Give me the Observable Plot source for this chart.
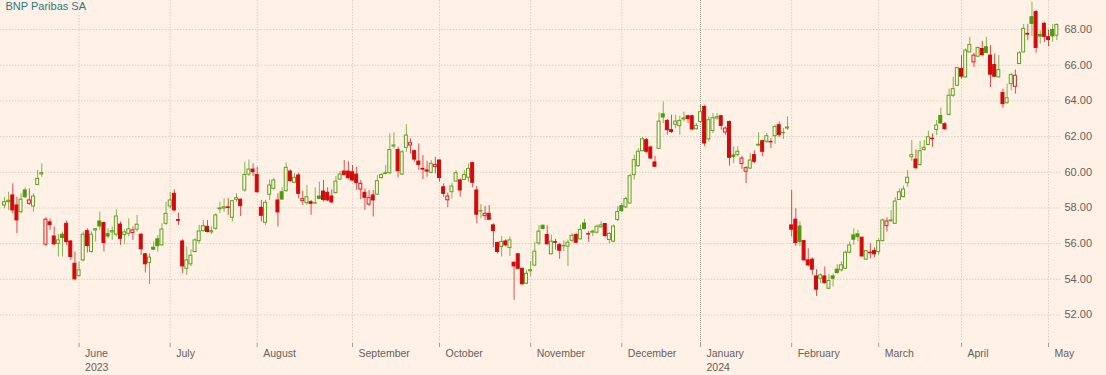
<!DOCTYPE html>
<html>
<head>
<meta charset="utf-8">
<script src="https://cdn.jsdelivr.net/npm/d3@7"></script>
<script src="https://cdn.jsdelivr.net/npm/@observablehq/plot@0.6"></script>
<style>
html, body { margin: 0; padding: 0; background: #fff1e5; }
#chart { width: 1106px; height: 375px; }
</style>
</head>
<body>
<div id="chart"></div>
<script>
// Daily candles (trading days, in order), BNP Paribas SA, May 2023 - May 2024
const open = [
58.14,58.33,58.70,58.14,57.76,58.98,58.23,58.08,59.29,59.88,
55.94,57.19,56.40,55.99,56.50,57.11,56.12,54.87,54.18,55.06,
56.70,55.53,56.74,57.24,57.15,56.53,56.63,56.50,57.07,56.48,
56.55,56.59,56.78,56.50,55.40,54.91,55.77,56.24,55.90,57.11,
58.08,58.79,57.32,56.12,54.59,54.84,55.53,56.14,56.70,56.94,
56.63,56.83,57.93,57.97,58.03,57.45,58.46,58.46,58.98,59.87,
60.15,59.85,58.01,57.17,58.74,59.07,58.42,58.88,58.94,60.04,
59.41,59.82,58.38,58.27,58.32,58.25,58.64,58.92,58.85,58.64,
58.83,59.59,60.04,60.04,60.00,59.87,59.03,58.85,58.19,58.70,
58.75,59.67,59.90,59.95,61.44,61.25,59.87,61.37,61.50,61.18,
60.60,60.19,60.10,59.97,60.30,60.66,59.16,58.43,58.88,59.48,
59.54,59.57,59.69,60.51,58.98,57.80,57.54,57.67,57.02,56.03,
55.81,56.12,55.75,54.93,55.40,54.59,53.75,54.45,54.77,56.01,
57.00,56.48,55.40,56.08,55.92,55.85,55.83,56.16,56.48,56.24,
57.13,56.53,56.61,56.61,56.91,57.10,56.20,56.11,57.32,58.10,
58.03,58.25,59.84,60.34,61.18,61.80,61.39,60.55,61.31,63.25,
62.88,62.36,62.66,62.58,62.96,63.14,63.14,62.41,62.82,63.66,
61.84,62.32,63.01,63.14,62.23,62.82,60.94,60.96,60.46,60.03,
60.21,60.96,61.50,61.74,61.71,61.70,62.02,62.64,62.19,62.45,
57.02,57.34,56.96,56.14,55.06,55.10,54.16,54.03,54.16,53.47,
54.16,54.54,54.50,54.59,55.49,56.46,56.52,56.33,55.10,55.49,
55.58,55.53,56.14,56.98,57.25,57.11,58.45,58.60,59.39,60.84,
60.71,60.41,61.25,61.53,61.88,62.37,63.16,62.69,63.22,64.29,
64.85,65.79,65.32,66.72,66.16,66.48,66.91,67.01,66.54,66.01,
65.32,64.44,63.87,64.94,64.79,66.07,66.72,67.76,68.69,68.98,
67.70,68.32,67.57,67.98,67.66];
const high = [
58.60,58.88,59.35,58.60,58.79,59.13,59.07,58.79,60.10,60.47,
57.45,57.39,56.93,56.51,56.65,57.26,56.18,55.53,54.97,56.65,
56.83,56.65,56.83,57.76,57.21,56.83,56.93,57.90,57.21,56.78,
57.39,56.93,57.58,56.55,55.43,55.43,56.09,56.46,57.11,58.32,
58.88,59.01,57.71,56.22,55.81,55.66,56.27,57.02,57.30,57.30,
56.93,57.67,58.32,58.51,58.51,58.42,58.79,58.51,60.56,60.69,
60.47,60.28,58.42,58.42,59.57,59.63,58.79,59.13,60.51,60.13,
59.91,59.95,58.94,59.26,58.42,59.13,59.44,59.54,59.13,59.01,
59.76,60.04,60.66,60.60,60.38,60.28,59.54,59.07,58.98,58.98,
59.82,59.91,60.38,62.15,62.21,61.40,61.22,62.67,61.87,61.25,
61.59,60.94,60.62,60.66,60.84,60.69,59.35,58.83,59.39,60.10,
59.63,60.10,60.47,60.56,59.20,58.19,58.08,58.14,57.11,56.08,
56.40,56.22,56.37,54.97,55.43,54.62,54.50,54.99,56.07,57.00,
57.04,56.99,56.48,56.24,56.01,56.16,56.20,56.57,56.57,57.04,
57.36,56.67,56.76,57.04,57.23,57.13,56.61,57.04,58.07,58.25,
58.59,59.88,60.96,61.33,61.95,61.89,61.46,60.90,63.33,63.94,
62.96,63.20,63.20,63.14,63.38,63.20,63.20,62.73,63.76,63.76,
63.10,63.29,63.29,63.20,62.54,62.88,61.43,61.43,60.90,60.31,
61.05,61.20,62.21,61.80,62.17,61.89,62.64,62.82,62.45,63.10,
58.98,57.95,57.21,56.18,55.71,55.19,54.54,54.31,54.69,54.28,
54.28,54.82,54.97,55.58,56.09,56.83,56.74,56.37,55.62,55.99,
55.77,56.27,57.39,57.45,57.86,58.57,59.07,59.22,60.10,61.78,
61.25,61.74,61.78,62.30,62.15,62.90,63.59,62.78,64.66,65.32,
65.88,66.54,66.91,67.57,66.67,67.01,67.34,67.57,67.10,66.63,
66.54,64.66,64.94,65.54,65.73,66.78,68.28,68.28,69.54,69.07,
67.94,68.41,67.98,68.28,68.32];
const low = [
57.95,57.86,57.67,56.55,57.67,58.51,58.14,57.76,59.26,59.72,
55.84,56.74,55.90,55.25,55.25,55.90,55.06,53.94,54.13,54.97,
55.47,55.47,56.09,56.74,55.53,56.27,56.18,56.37,55.90,55.96,
56.37,56.18,56.65,55.34,54.35,53.70,55.62,55.53,55.86,57.02,
57.95,57.80,57.02,54.31,54.22,54.69,55.47,55.99,56.65,56.59,
56.51,56.74,57.67,57.76,57.58,57.21,58.32,57.52,58.88,59.76,
59.76,58.83,57.21,57.02,58.42,59.00,56.93,58.42,58.88,59.44,
59.35,58.51,58.14,58.14,57.58,58.19,58.47,58.32,58.36,58.23,
58.79,59.54,59.82,59.57,59.48,58.98,58.47,57.86,58.08,57.49,
58.70,59.63,59.87,59.87,61.31,59.69,59.82,61.12,61.03,60.56,
60.10,59.59,59.72,59.91,59.91,59.44,58.60,58.01,58.51,59.44,
58.60,59.54,59.44,59.13,57.11,57.39,57.30,57.30,55.77,55.43,
55.25,55.81,55.28,52.82,54.56,53.66,53.70,54.15,54.71,55.88,
56.76,55.92,55.36,55.64,55.12,55.55,54.71,56.05,56.01,56.20,
56.76,56.07,56.39,56.55,56.88,56.33,55.98,56.05,57.23,57.75,
57.97,58.22,59.56,60.27,61.15,61.05,60.72,60.27,61.28,62.73,
62.08,62.17,62.45,62.08,62.82,62.73,62.32,62.36,62.73,61.43,
61.71,62.17,62.92,62.36,62.08,60.34,60.49,60.87,60.16,59.37,
60.16,60.49,61.43,60.87,61.61,61.33,61.57,61.95,61.84,62.36,
56.37,55.84,55.84,55.01,54.69,54.22,53.04,53.75,53.72,53.42,
53.57,54.28,54.41,54.54,55.43,55.90,56.09,55.25,55.06,55.15,
55.21,55.34,56.09,56.65,57.21,57.08,58.42,58.57,59.16,60.62,
60.15,60.34,61.18,61.50,61.40,62.06,62.69,62.35,63.16,64.19,
64.79,65.22,65.28,66.69,65.88,66.44,66.48,66.63,64.75,65.32,
65.28,63.59,63.82,64.57,64.38,66.03,66.69,67.38,67.61,66.67,
67.19,67.27,67.04,67.29,67.38];
const close = [
58.32,58.40,57.86,57.30,58.46,58.60,58.42,58.64,59.63,59.95,
57.34,57.04,55.96,56.18,56.31,56.09,55.25,54.00,54.50,56.50,
55.86,56.50,56.81,56.96,56.03,56.40,56.70,57.52,56.27,56.63,
56.80,56.74,57.06,55.68,54.84,55.21,55.66,55.86,56.79,57.67,
58.42,57.86,57.28,54.72,55.06,55.32,56.18,56.68,56.98,56.65,
56.70,57.58,57.97,58.04,58.00,58.38,58.55,58.10,59.85,60.15,
60.00,58.88,57.56,58.29,59.26,59.54,57.75,58.47,60.25,59.50,
59.69,58.79,58.49,58.60,58.23,58.27,58.51,58.45,58.42,58.31,
59.48,59.87,59.84,59.67,59.54,59.39,59.35,58.57,58.55,58.42,
59.50,59.85,59.95,61.25,61.50,60.06,61.12,62.06,61.63,60.71,
60.41,60.15,60.04,60.47,60.41,59.67,58.79,58.64,59.20,59.95,
58.98,59.85,60.19,59.41,57.62,57.82,57.67,57.34,56.70,55.53,
56.09,55.90,56.18,54.72,54.59,53.72,54.31,54.51,55.55,56.67,
56.82,55.96,56.11,56.05,55.60,55.87,56.05,56.43,56.05,56.76,
56.82,56.51,56.67,56.95,57.02,56.43,56.54,56.95,57.77,57.82,
58.50,59.78,60.68,61.15,61.85,61.15,60.77,60.31,62.84,63.07,
62.36,62.26,62.84,62.88,63.01,62.99,62.40,62.60,63.37,61.61,
62.92,63.03,63.09,62.60,62.45,60.81,60.85,61.15,60.77,60.23,
60.66,60.59,61.54,61.15,62.02,61.68,62.54,62.08,62.21,62.51,
56.78,56.03,56.09,55.06,54.78,54.54,53.42,54.22,53.79,53.90,
54.03,54.35,54.78,55.49,55.90,56.22,56.37,55.28,55.58,55.47,
55.40,56.14,57.30,57.24,57.30,58.36,58.88,59.03,59.69,60.96,
60.23,61.18,61.37,61.96,61.86,62.62,62.73,62.41,64.29,64.66,
65.84,65.36,66.82,67.14,66.54,66.97,66.57,66.69,65.47,65.36,
65.73,63.82,64.15,65.45,65.41,66.67,68.04,67.72,68.32,66.97,
67.61,67.59,67.42,67.62,68.26];

// Month axis: first trading day (1-based day number) of each month
const monthStartDay = [19, 41, 62, 85, 106, 128, 150, 169, 191, 212, 232, 253];
const monthLabels = ["June","July","August","September","October","November","December","January","February","March","April","May"];
const monthYears  = ["2023","","","","","","","2024","","","",""];
const yearStartDay = [169];
const yTicks = [52, 54, 56, 58, 60, 62, 64, 66, 68];
const title = "BNP Paribas SA";

const BG = "#fff1e5";
const GREEN = "#4f9a0b";
const RED = "#d20a0a";

const candles = open.map((o, k) => ({
  day: k + 1,
  open: o, high: high[k], low: low[k], close: close[k],
  up: k === 0 ? true : close[k] >= close[k - 1],
  hollow: close[k] >= o
}));
const filled = candles.filter(d => !d.hollow);
const hollow = candles.filter(d => d.hollow);
const col = d => d.up ? GREEN : RED;
const HALF = 0.36;

const labelOf = new Map(monthStartDay.map((d, i) =>
  [d, monthYears[i] ? monthLabels[i] + "\n" + monthYears[i] : monthLabels[i]]));

const chart = Plot.plot({
  width: 1106,
  height: 375,
  marginLeft: 0,
  marginRight: 46,
  marginTop: 0,
  marginBottom: 32,
  style: {background: BG, fontFamily: "'Liberation Sans', Arial, sans-serif", fontSize: "10.5px", color: "#66605c"},
  x: {type: "linear", domain: [0.035, 255.89], axis: null},
  y: {domain: [50.40, 69.63], axis: null},
  marks: [
    Plot.ruleY(yTicks, {stroke: "#dccdc1", strokeDasharray: "1.5,1.5"}),
    Plot.ruleX(monthStartDay.filter(d => !yearStartDay.includes(d)), {stroke: "#ddcfc4", strokeDasharray: "1.5,1.5"}),
    Plot.ruleX(yearStartDay, {stroke: "#9d9792", strokeDasharray: "1,1"}),
    Plot.axisX({ticks: monthStartDay, tickSize: 4, tickFormat: () => null, color: "#a39d98", label: null}),
    Plot.axisX({ticks: monthStartDay, tickSize: 0, tickPadding: 4, tickFormat: d => labelOf.get(d),
      textAnchor: "start", dx: 6, lineHeight: 1.33, color: "#66605c", fontSize: 10.5, label: null}),
    Plot.axisY({anchor: "right", ticks: yTicks, tickSize: 0, tickPadding: 4,
      tickFormat: d => d.toFixed(2), color: "#66605c", fontSize: 11, label: null}),
    Plot.ruleX(candles, {x: "day", y1: "low", y2: "high", stroke: col, strokeOpacity: 0.7}),
    Plot.rect(filled, {x1: d => d.day - HALF, x2: d => d.day + HALF, y1: "open", y2: "close",
      fill: col, stroke: col, strokeWidth: 1}),
    Plot.rect(hollow, {x1: d => d.day - HALF, x2: d => d.day + HALF, y1: "open", y2: "close",
      fill: BG, stroke: col, strokeWidth: 1, strokeOpacity: 0.9}),
    Plot.text([title], {frameAnchor: "top-left", dx: 5, dy: 2, lineAnchor: "top",
      fontSize: 11, fill: "#2b7a84", text: d => d})
  ]
});
document.getElementById("chart").appendChild(chart);
</script>
</body>
</html>
